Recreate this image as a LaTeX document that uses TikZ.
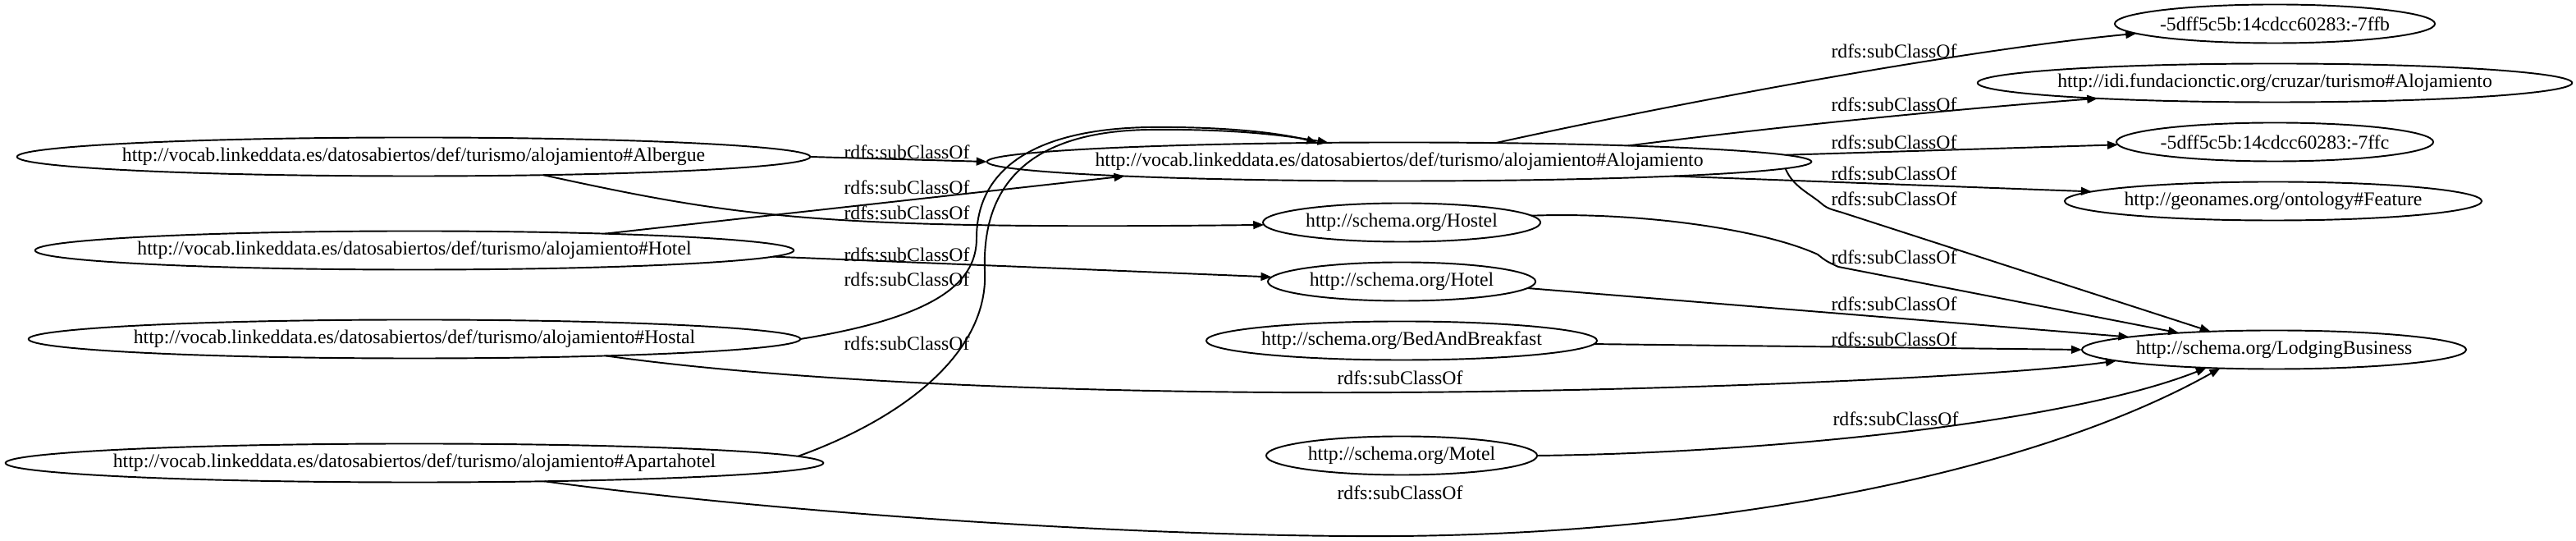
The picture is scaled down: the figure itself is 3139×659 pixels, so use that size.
\documentclass[tikz,border=0pt]{standalone}
\usepackage{fontspec}
\setmainfont{Liberation Serif}
\usetikzlibrary{shapes.geometric,arrows.meta}
\newcommand\mk[1]{\makebox[0pt]{#1}}
\begin{document}
\begin{tikzpicture}[x=0.01cm,y=-0.01cm,
  every node/.style={font=\fontsize{6.75}{8}\selectfont},
  cls/.style={draw, ellipse, inner sep=0pt, outer sep=0pt, minimum height=0.47cm, line width=0.55pt},
  rel/.style={draw, line width=0.55pt, -{Triangle[length=3.7pt,width=2.8pt]}},
  lbl/.style={inner sep=0pt}]
\fill[white] (0,0) rectangle (3139,659);
\useasboundingbox (0,0) rectangle (3139,659);
% left column
\node[cls, minimum width=9.66cm] (alb) at (504,191) {\mk{http://vocab.linkeddata.es/datosabiertos/def/turismo/alojamiento\#Albergue}};
\node[cls, minimum width=9.24cm] (vhotel) at (505,305) {\mk{http://vocab.linkeddata.es/datosabiertos/def/turismo/alojamiento\#Hotel}};
\node[cls, minimum width=9.40cm] (hostal) at (505,413) {\mk{http://vocab.linkeddata.es/datosabiertos/def/turismo/alojamiento\#Hostal}};
\node[cls, minimum width=9.96cm] (apart) at (505,564) {\mk{http://vocab.linkeddata.es/datosabiertos/def/turismo/alojamiento\#Apartahotel}};
% middle column
\node[cls, minimum width=10.04cm] (aloj) at (1705,197) {\mk{http://vocab.linkeddata.es/datosabiertos/def/turismo/alojamiento\#Alojamiento}};
\node[cls, minimum width=3.38cm] (shostel) at (1708,271) {\mk{http://schema.org/Hostel}};
\node[cls, minimum width=3.26cm] (shotel) at (1708,343) {\mk{http://schema.org/Hotel}};
\node[cls, minimum width=4.76cm] (bnb) at (1708,415) {\mk{http://schema.org/BedAndBreakfast}};
\node[cls, minimum width=3.30cm] (motel) at (1708,555) {\mk{http://schema.org/Motel}};
% right column
\node[cls, minimum width=3.90cm] (ffb) at (2772,29) {\mk{-5dff5c5b:14cdcc60283:-7ffb}};
\node[cls, minimum width=7.24cm] (idi) at (2772,101) {\mk{http://idi.fundacionctic.org/cruzar/turismo\#Alojamiento}};
\node[cls, minimum width=3.86cm] (ffc) at (2772,173) {\mk{-5dff5c5b:14cdcc60283:-7ffc}};
\node[cls, minimum width=5.08cm] (feat) at (2770,245) {\mk{http://geonames.org/ontology\#Feature}};
\node[cls, minimum width=4.68cm] (lodg) at (2771,426) {\mk{http://schema.org/LodgingBusiness}};
% edges into Alojamiento
\draw[rel] (alb.east) -- (aloj.west) node[lbl] at (1105,185) {rdfs:subClassOf};
\draw[rel] (vhotel.5.9) -- (aloj.183.9) node[lbl] at (1105,228) {rdfs:subClassOf};
\draw[rel] (hostal.0.37) .. controls (1150,385) and (1190,340) .. (1190,290)
  .. controls (1190,200) and (1270,157) .. (1400,155)
  .. controls (1500,154) and (1565,163) .. (aloj.167) node[lbl] at (1105,340) {rdfs:subClassOf};
\draw[rel] (apart.1.2) .. controls (1100,510) and (1205,430) .. (1200,330)
  .. controls (1196,220) and (1260,160) .. (1400,158)
  .. controls (1500,157) and (1560,164) .. (aloj.165.5) node[lbl] at (1105,418) {rdfs:subClassOf};
% left to schema
\draw[rel] (alb.-8.35) .. controls (900,265) and (1000,280) .. (shostel.181.8) node[lbl] at (1105,259) {rdfs:subClassOf};
\draw[rel] (vhotel.-1.69) -- (shotel.178.7) node[lbl] at (1105,310) {rdfs:subClassOf};
% Alojamiento outgoing
\draw[rel] (aloj.11.56) .. controls (2060,122) and (2400,60) .. (ffb.184.33) node[lbl] at (2308,62) {rdfs:subClassOf};
\draw[rel] (aloj.4.94) .. controls (2200,150) and (2420,130) .. (idi.185.1) node[lbl] at (2308,127) {rdfs:subClassOf};
\draw[rel] (aloj.1.34) -- (ffc.181.0) node[lbl] at (2308,173) {rdfs:subClassOf};
\draw[rel] (aloj.-3.68) -- (feat.177.45) node[lbl] at (2308,211) {rdfs:subClassOf};
\draw[rel] (aloj.-1.66) .. controls (2185,228) and (2205,235) .. (2222,250)
  .. controls (2228,254) .. (2245,259) -- (lodg.164.77) node[lbl] at (2308,242) {rdfs:subClassOf};
% into LodgingBusiness
\draw[rel] (shostel.3.74) .. controls (2000,258) and (2150,280) .. (2215,310)
  .. controls (2225,318) .. (2240,325) -- (lodg.170.76) node[lbl] at (2308,313) {rdfs:subClassOf};
\draw[rel] (shotel.-3.03) -- (lodg.175.62) node[lbl] at (2308,370) {rdfs:subClassOf};
\draw[rel] (bnb.-1.05) -- (lodg.west) node[lbl] at (2308,413) {rdfs:subClassOf};
\draw[rel] (hostal.-5.96) .. controls (1000,470) and (1400,480) .. (1703,478)
  .. controls (2050,476) and (2450,458) .. (lodg.184.97) node[lbl] at (1706,460) {rdfs:subClassOf};
\draw[rel] (motel.east) .. controls (2150,552) and (2520,515) .. (lodg.195.23) node[lbl] at (2310,510) {rdfs:subClassOf};
\draw[rel] (apart.-8.03) .. controls (950,625) and (1400,655) .. (1703,653)
  .. controls (2100,650) and (2480,575) .. (lodg.199.73) node[lbl] at (1706,600) {rdfs:subClassOf};
\end{tikzpicture}
\end{document}
